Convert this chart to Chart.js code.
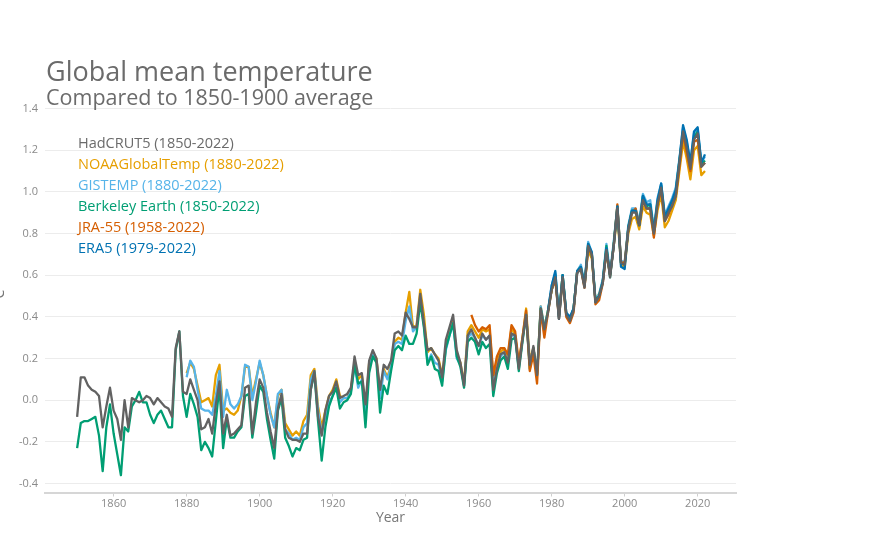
<!DOCTYPE html>
<html>
<head>
<meta charset="utf-8">
<title>Global mean temperature</title>
<script src="https://cdn.jsdelivr.net/npm/chart.js@4.4.0/dist/chart.umd.min.js"></script>
<style>
    body { margin: 0; background: #fff; font-family: "Open Sans", sans-serif; }
    .wrap { position: relative; width: 886px; height: 538px; overflow: hidden; }
    canvas { position: absolute; left: 0; top: 0; }
    .title { position: absolute; left: 46px; top: 57px; font-size: 27px; line-height: 1; color: #6b6b6b; white-space: nowrap; }
    .subtitle { position: absolute; left: 46px; top: 86px; font-size: 21.5px; line-height: 1; color: #6b6b6b; white-space: nowrap; }
    .legend { position: absolute; left: 78px; top: 132px; font-size: 14.5px; line-height: 21px; white-space: nowrap; }
    .yunit { position: absolute; left: -11px; top: 290px; width: 20px; height: 14px; line-height: 1; font-size: 14px; text-align: center; color: #777; transform: rotate(-90deg); }
</style>
</head>
<body>
<div class="wrap">
    <canvas id="chart" width="886" height="538"></canvas>
    <div class="title">Global mean temperature</div>
    <div class="subtitle">Compared to 1850-1900 average</div>
    <div class="yunit">°C</div>
    <div class="legend" id="legend"></div>
</div>
<script>
// tick labels
const xTicks = [1860, 1880, 1900, 1920, 1940, 1960, 1980, 2000, 2020];
const yTicks = [-0.4, -0.2, 0, 0.2, 0.4, 0.6, 0.8, 1.0, 1.2, 1.4];

// series names, first year of each record
const seriesNames = ["HadCRUT5 (1850-2022)", "NOAAGlobalTemp (1880-2022)", "GISTEMP (1880-2022)",
    "Berkeley Earth (1850-2022)", "JRA-55 (1958-2022)", "ERA5 (1979-2022)"];
const startYears = [1850, 1880, 1880, 1850, 1958, 1979];

// anomalies vs 1850-1900, degC, one value per year
const hadcrut5 = [
    -0.08, 0.11, 0.11, 0.07, 0.05, 0.04, 0.02, -0.13, -0.03, 0.06,
    -0.05, -0.09, -0.19, 0.00, -0.13, 0.01, 0.00, -0.01, 0.00, 0.02,
    0.01, -0.02, 0.01, -0.01, -0.03, -0.04, -0.08, 0.25, 0.33, 0.04,
    0.03, 0.10, 0.05, 0.00, -0.14, -0.13, -0.09, -0.16, -0.02, 0.09,
    -0.16, -0.07, -0.17, -0.16, -0.14, -0.12, 0.06, 0.07, -0.16, -0.01,
    0.10, 0.06, -0.06, -0.15, -0.23, -0.04, 0.03, -0.14, -0.18, -0.19,
    -0.19, -0.20, -0.16, -0.16, 0.05, 0.14, -0.08, -0.17, -0.05, 0.02,
    0.04, 0.09, 0.01, 0.02, 0.03, 0.06, 0.21, 0.12, 0.13, -0.02,
    0.19, 0.24, 0.20, 0.05, 0.17, 0.15, 0.19, 0.32, 0.33, 0.31,
    0.42, 0.39, 0.35, 0.35, 0.51, 0.37, 0.24, 0.25, 0.22, 0.19,
    0.11, 0.29, 0.35, 0.41, 0.24, 0.18, 0.07, 0.31, 0.34, 0.30,
    0.26, 0.32, 0.29, 0.31, 0.05, 0.15, 0.22, 0.23, 0.18, 0.32,
    0.31, 0.15, 0.29, 0.41, 0.17, 0.26, 0.12, 0.44, 0.34, 0.42,
    0.53, 0.59, 0.39, 0.59, 0.41, 0.38, 0.43, 0.61, 0.63, 0.54,
    0.74, 0.70, 0.47, 0.50, 0.56, 0.72, 0.59, 0.74, 0.92, 0.66,
    0.65, 0.82, 0.90, 0.90, 0.84, 0.96, 0.92, 0.92, 0.80, 0.94,
    1.02, 0.86, 0.90, 0.93, 0.98, 1.14, 1.29, 1.21, 1.11, 1.25,
    1.28, 1.12, 1.14
];

const noaa = [
    0.13, 0.18, 0.15, 0.07, -0.01, 0.00, 0.01, -0.03, 0.12, 0.17,
    -0.05, -0.04, -0.06, -0.07, -0.05, 0.02, 0.16, 0.16, 0.02, 0.10,
    0.18, 0.12, 0.02, -0.06, -0.13, 0.02, 0.05, -0.11, -0.14, -0.17,
    -0.15, -0.17, -0.10, -0.07, 0.12, 0.15, -0.03, -0.13, -0.05, 0.02,
    0.05, 0.10, 0.02, 0.01, 0.01, 0.05, 0.18, 0.10, 0.12, -0.05,
    0.18, 0.23, 0.20, 0.03, 0.15, 0.11, 0.17, 0.28, 0.30, 0.29,
    0.42, 0.52, 0.35, 0.36, 0.53, 0.41, 0.23, 0.25, 0.22, 0.20,
    0.12, 0.25, 0.33, 0.38, 0.22, 0.18, 0.08, 0.33, 0.36, 0.33,
    0.30, 0.34, 0.33, 0.34, 0.11, 0.18, 0.23, 0.25, 0.21, 0.35,
    0.31, 0.17, 0.30, 0.44, 0.19, 0.25, 0.13, 0.45, 0.35, 0.43,
    0.53, 0.58, 0.41, 0.60, 0.42, 0.39, 0.44, 0.62, 0.63, 0.55,
    0.72, 0.68, 0.48, 0.51, 0.57, 0.71, 0.60, 0.74, 0.89, 0.65,
    0.64, 0.80, 0.87, 0.88, 0.82, 0.93, 0.90, 0.89, 0.79, 0.91,
    0.99, 0.83, 0.86, 0.91, 0.96, 1.10, 1.24, 1.16, 1.06, 1.20,
    1.22, 1.08, 1.10
];

const gistemp = [
    0.11, 0.19, 0.16, 0.05, -0.04, -0.05, -0.05, -0.07, 0.02, 0.14,
    -0.08, 0.05, -0.02, -0.04, -0.02, 0.02, 0.17, 0.16, 0.00, 0.09,
    0.19, 0.12, 0.02, -0.07, -0.13, 0.03, 0.05, -0.14, -0.16, -0.19,
    -0.18, -0.19, -0.13, -0.11, 0.10, 0.14, -0.05, -0.16, -0.08, -0.01,
    0.02, 0.07, -0.01, 0.01, 0.01, 0.04, 0.17, 0.06, 0.10, -0.07,
    0.16, 0.22, 0.19, 0.01, 0.14, 0.10, 0.16, 0.27, 0.28, 0.27,
    0.38, 0.45, 0.33, 0.35, 0.49, 0.36, 0.18, 0.22, 0.18, 0.17,
    0.09, 0.24, 0.31, 0.37, 0.20, 0.17, 0.07, 0.30, 0.32, 0.30,
    0.26, 0.31, 0.29, 0.31, 0.06, 0.15, 0.21, 0.23, 0.18, 0.32,
    0.30, 0.16, 0.29, 0.42, 0.17, 0.25, 0.13, 0.45, 0.35, 0.43,
    0.55, 0.61, 0.40, 0.60, 0.42, 0.39, 0.44, 0.62, 0.65, 0.56,
    0.76, 0.71, 0.48, 0.51, 0.58, 0.75, 0.61, 0.76, 0.93, 0.67,
    0.66, 0.84, 0.92, 0.92, 0.86, 0.99, 0.95, 0.96, 0.82, 0.97,
    1.04, 0.89, 0.93, 0.97, 1.02, 1.16, 1.31, 1.24, 1.14, 1.28,
    1.30, 1.14, 1.17
];

const berkeley = [
    -0.23, -0.11, -0.10, -0.10, -0.09, -0.08, -0.17, -0.34, -0.13, -0.02,
    -0.16, -0.26, -0.36, -0.13, -0.15, -0.03, 0.00, 0.04, -0.01, -0.01,
    -0.07, -0.11, -0.07, -0.05, -0.09, -0.13, -0.13, 0.24, 0.33, 0.02,
    -0.08, 0.03, -0.02, -0.08, -0.24, -0.20, -0.23, -0.27, -0.10, 0.07,
    -0.23, -0.09, -0.18, -0.18, -0.15, -0.13, 0.02, 0.03, -0.18, -0.06,
    0.07, 0.04, -0.09, -0.19, -0.28, -0.05, 0.01, -0.18, -0.22, -0.27,
    -0.23, -0.24, -0.19, -0.18, 0.05, 0.13, -0.10, -0.29, -0.13, -0.03,
    0.02, 0.06, -0.04, -0.01, 0.00, 0.03, 0.17, 0.08, 0.09, -0.13,
    0.13, 0.21, 0.18, -0.06, 0.07, 0.03, 0.14, 0.24, 0.26, 0.24,
    0.31, 0.27, 0.27, 0.32, 0.47, 0.35, 0.17, 0.21, 0.15, 0.14,
    0.07, 0.25, 0.31, 0.37, 0.21, 0.16, 0.06, 0.28, 0.30, 0.28,
    0.22, 0.28, 0.25, 0.27, 0.02, 0.13, 0.19, 0.21, 0.15, 0.29,
    0.30, 0.14, 0.28, 0.41, 0.15, 0.25, 0.12, 0.44, 0.34, 0.43,
    0.53, 0.60, 0.40, 0.60, 0.41, 0.38, 0.44, 0.62, 0.64, 0.55,
    0.75, 0.70, 0.48, 0.50, 0.57, 0.74, 0.59, 0.75, 0.93, 0.66,
    0.65, 0.83, 0.91, 0.91, 0.84, 0.98, 0.93, 0.94, 0.81, 0.95,
    1.03, 0.87, 0.91, 0.95, 1.00, 1.15, 1.29, 1.22, 1.12, 1.26,
    1.29, 1.13, 1.15
];

const jra55 = [
    0.41, 0.36,
    0.33, 0.35, 0.34, 0.36, 0.12, 0.21, 0.25, 0.25, 0.22, 0.36,
    0.33, 0.18, 0.30, 0.43, 0.14, 0.22, 0.08, 0.43, 0.30, 0.42,
    0.53, 0.58, 0.39, 0.58, 0.40, 0.37, 0.42, 0.62, 0.63, 0.54,
    0.73, 0.70, 0.46, 0.48, 0.56, 0.72, 0.60, 0.74, 0.94, 0.66,
    0.66, 0.82, 0.90, 0.92, 0.84, 0.96, 0.92, 0.92, 0.78, 0.94,
    1.01, 0.86, 0.89, 0.94, 0.98, 1.12, 1.28, 1.19, 1.10, 1.24,
    1.25, 1.12, 1.14
];

const era5 = [
    0.43,
    0.55, 0.62, 0.39, 0.60, 0.42, 0.40, 0.44, 0.62, 0.64, 0.55,
    0.75, 0.71, 0.47, 0.50, 0.57, 0.73, 0.60, 0.74, 0.93, 0.64,
    0.63, 0.83, 0.91, 0.91, 0.84, 0.98, 0.94, 0.94, 0.81, 0.96,
    1.04, 0.88, 0.92, 0.96, 1.01, 1.15, 1.32, 1.25, 1.14, 1.29,
    1.31, 1.14, 1.18
];

const allSeries = [hadcrut5, noaa, gistemp, berkeley, jra55, era5];
const lineColors = ["#626262", "#E69F00", "#56B4E9", "#009E73", "#D55E00", "#0072B2"];
const legendColors = ["#6b6b6b", "#E69F00", "#56B4E9", "#009E73", "#D55E00", "#0072B2"];
// HadCRUT5 drawn on top, then ERA5, JRA-55 ...
const drawOrder = [0, 5, 4, 3, 2, 1];

const legend = document.getElementById("legend");
seriesNames.forEach((name, i) => {
    const row = document.createElement("div");
    row.textContent = name;
    row.style.color = legendColors[i];
    legend.appendChild(row);
});

const datasets = allSeries.map((values, i) => ({
    label: seriesNames[i],
    data: values.map((v, k) => ({ x: startYears[i] + k, y: v })),
    borderColor: lineColors[i],
    backgroundColor: lineColors[i],
    borderWidth: 2.3,
    borderJoinStyle: "round",
    pointRadius: 0,
    tension: 0,
    order: drawOrder[i]
}));

const tickFont = { family: "Open Sans", size: 11 };

new Chart(document.getElementById("chart"), {
    type: "line",
    data: { datasets },
    options: {
        responsive: false,
        animation: false,
        layout: { padding: { top: 108.5, right: 150, left: 0, bottom: 0 } },
        plugins: {
            legend: { display: false },
            tooltip: { enabled: false }
        },
        scales: {
            x: {
                type: "linear",
                min: 1841.2,
                max: 2030.5,
                afterBuildTicks: scale => { scale.ticks = xTicks.map(v => ({ value: v })); },
                afterFit: scale => { scale.height = 45.5; },
                ticks: { color: "#8a8a8a", font: tickFont, padding: 1, maxRotation: 0, callback: v => String(v) },
                grid: { drawOnChartArea: false, drawTicks: true, tickLength: 4, color: "#cfcfcf", lineWidth: 1 },
                border: { display: true, color: "#d6d6d6", width: 2 },
                title: { display: true, text: "Year", color: "#777", font: { family: "Open Sans", size: 14 }, padding: { top: 0, bottom: 11.5 } }
            },
            y: {
                min: -0.443,
                max: 1.4,
                afterBuildTicks: scale => { scale.ticks = yTicks.map(v => ({ value: v })); },
                afterFit: scale => { scale.width = 45; },
                ticks: { color: "#8a8a8a", font: tickFont, padding: 7, callback: v => v.toFixed(1) },
                grid: { color: "#ececec", lineWidth: 1, drawTicks: false },
                border: { display: false }
            }
        }
    }
});
</script>
</body>
</html>
